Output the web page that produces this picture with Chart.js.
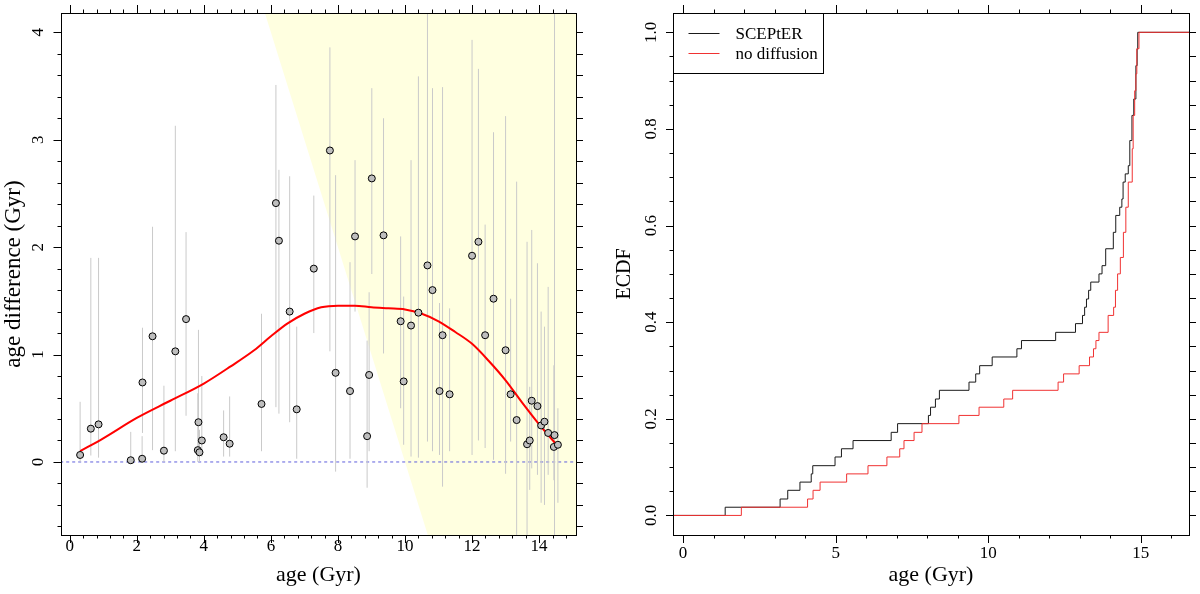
<!DOCTYPE html>
<html>
<head>
<meta charset="utf-8">
<title>Age difference and ECDF</title>
<script src="https://cdn.jsdelivr.net/npm/chart.js@4.4.1/dist/chart.umd.min.js"></script>
<style>
  html, body { margin: 0; padding: 0; background: #fff; }
  #wrap { position: relative; width: 1200px; height: 594px; }
  #wrap canvas { position: absolute; top: 0; }
  #ageDiff { left: 0; }
  #ecdf { left: 600px; }
</style>
</head>
<body>
<div id="wrap">
  <canvas id="ageDiff" width="600" height="594"></canvas>
  <canvas id="ecdf" width="600" height="594"></canvas>
</div>
<script>
// left panel: age difference per star, with its error bar
const starAge = [0.31, 0.63, 0.86, 1.82, 2.16, 2.17, 2.47, 2.81, 3.15, 3.47, 3.82, 3.84, 3.87, 3.94, 4.59, 4.77,
  5.72, 6.15, 6.24, 6.56, 6.77, 7.28, 7.76, 7.93, 8.36, 8.51, 8.87, 8.93, 9.01, 9.36, 9.87, 9.96, 10.18, 10.40,
  10.67, 10.82, 11.03, 11.12, 11.33, 12.00, 12.19, 12.39, 12.64, 13.00, 13.15, 13.33, 13.64, 13.72, 13.78, 13.95,
  14.06, 14.16, 14.27, 14.44, 14.46, 14.56];
const ageDiff = [0.065, 0.31, 0.35, 0.016, 0.03, 0.74, 1.17, 0.105, 1.03, 1.33, 0.11, 0.37, 0.09, 0.20, 0.23, 0.17,
  0.54, 2.41, 2.06, 1.40, 0.49, 1.80, 2.90, 0.83, 0.66, 2.10, 0.24, 0.81, 2.64, 2.11, 1.31, 0.75, 1.27, 1.39,
  1.83, 1.60, 0.66, 1.18, 0.63, 1.92, 2.05, 1.18, 1.52, 1.04, 0.63, 0.39, 0.165, 0.20, 0.57, 0.52,
  0.34, 0.375, 0.27, 0.14, 0.25, 0.16];
const diffLow = [0.0, 0.06, 0.04, 0.0, 0.0, 0.27, 0.11, 0.0, 0.10, 0.43, 0.0, 0.05, 0.0, 0.05, 0.05, 0.05,
  0.10, 0.51, 0.45, 0.37, 0.03, 1.20, 1.03, -0.09, 0.03, 1.40, -0.24, 0.10, 1.75, 1.01, 0.50, 0.16, 0.05, 0.04,
  0.19, 0.10, 0.065, -0.23, 0.10, 0.065, 0.20, 0.13, 0.02, -0.11, 0.19, -0.80, -0.80, -0.26, -0.06, -0.12,
  -0.38, -0.40, -0.12, -0.17, -0.80, -0.38];
const diffHigh = [0.56, 1.90, 1.90, 0.28, 0.24, 1.25, 2.19, 0.71, 3.13, 2.14, 0.64, 1.23, 0.30, 0.80, 0.48, 0.61,
  1.38, 3.51, 2.72, 2.66, 1.26, 2.48, 3.86, 2.67, 1.86, 2.81, 1.13, 1.58, 3.48, 3.20, 2.10, 1.54, 2.81, 3.59,
  4.40, 3.48, 1.48, 3.49, 1.43, 3.93, 3.66, 2.21, 3.07, 3.22, 1.52, 2.61, 2.05, 0.70, 2.16, 1.85,
  1.40, 1.26, 1.63, 0.90, 4.40, 0.50];

// smoothed trend (red curve)
const trendAge = [0.31, 1, 2, 3, 4, 4.8, 5.5, 6, 6.5, 7, 7.5, 8, 8.5, 9, 9.5, 10, 10.5, 11, 11.5, 12, 12.5, 13, 13.5, 14, 14.55];
const trendDiff = [0.10, 0.22, 0.41, 0.57, 0.73, 0.89, 1.04, 1.17, 1.29, 1.38, 1.44, 1.455, 1.455, 1.44, 1.43, 1.42,
  1.38, 1.31, 1.21, 1.10, 0.94, 0.76, 0.55, 0.35, 0.15];

// edge of the shaded zone (age + difference = 10 Gyr) and the zero line
const shadeAge = [5, 16];
const shadeDiff = [5, -6];
const zeroAge = [-1, 16];
const zeroDiff = [0, 0];

// right panel: ECDF jumps
const scepterAge = [1.38, 3.18, 3.43, 3.83, 4.20, 4.25, 4.98, 5.19, 5.57, 6.82, 7.03, 8.04, 8.11, 8.27, 8.40, 9.37,
  9.59, 9.72, 10.13, 10.94, 11.09, 12.21, 12.86, 13.09, 13.16, 13.22, 13.29, 13.36, 13.63, 13.73, 13.85, 14.10,
  14.18, 14.31, 14.38, 14.42, 14.49, 14.59, 14.64, 14.71, 14.77, 14.84, 14.88, 14.90];
const scepterEcdf = [0.017, 0.034, 0.052, 0.069, 0.086, 0.103, 0.121, 0.138, 0.155, 0.172, 0.190, 0.207, 0.224, 0.241,
  0.259, 0.276, 0.293, 0.310, 0.328, 0.345, 0.362, 0.379, 0.397, 0.414, 0.431, 0.448, 0.466, 0.483, 0.500, 0.517,
  0.552, 0.586, 0.621, 0.638, 0.655, 0.690, 0.707, 0.724, 0.776, 0.828, 0.862, 0.931, 0.966, 1.000];
const noDiffAge = [1.91, 4.08, 4.26, 4.49, 5.36, 6.06, 6.68, 7.10, 7.24, 7.57, 7.83, 9.04, 9.70, 10.51, 10.80, 12.29,
  12.47, 12.98, 13.32, 13.45, 13.53, 13.63, 13.93, 14.11, 14.17, 14.24, 14.33, 14.43, 14.51, 14.59, 14.72, 14.75,
  14.80, 14.84, 14.87, 14.94];
const noDiffEcdf = [0.017, 0.034, 0.052, 0.069, 0.086, 0.103, 0.121, 0.138, 0.155, 0.172, 0.190, 0.207, 0.224, 0.241,
  0.259, 0.276, 0.293, 0.310, 0.328, 0.345, 0.362, 0.379, 0.414, 0.431, 0.466, 0.500, 0.534, 0.586, 0.638, 0.690,
  0.759, 0.828, 0.879, 0.914, 0.966, 1.000];
const ecdfStart = [-1, 0];
const ecdfEnd = [17, 1];

// tick labels
const ageTicks = [0, 2, 4, 6, 8, 10, 12, 14];
const ageTickNames = ['0', '2', '4', '6', '8', '10', '12', '14'];
const diffTicks = [0, 1, 2, 3, 4];
const diffTickNames = ['0', '1', '2', '3', '4'];
const ecdfAgeTicks = [0, 5, 10, 15];
const ecdfAgeTickNames = ['0', '5', '10', '15'];
const ecdfTicks = [0, 0.2, 0.4, 0.6, 0.8, 1.0];
const ecdfTickNames = ['0.0', '0.2', '0.4', '0.6', '0.8', '1.0'];

Chart.defaults.font.family = "'Liberation Serif', 'Times New Roman', serif";
Chart.defaults.color = '#000';
Chart.defaults.animation = false;

function pick(majors, names) {
  return function (value) {
    const i = majors.findIndex(m => Math.abs(m - value) < 1e-6);
    return i >= 0 ? names[i] : '';
  };
}

function toPoints(xs, ys) {
  return xs.map((x, i) => ({ x: x, y: ys[i] }));
}

// fix an axis box to a given size and drop the label overhang padding
function fixSize(size) {
  return function (sc) {
    if (sc.isHorizontal()) sc.height = size; else sc.width = size;
    sc.paddingTop = 0; sc.paddingBottom = 0; sc.paddingLeft = 0; sc.paddingRight = 0;
  };
}

// R-like box with long/short tick marks, drawn from the scales' own ticks
function boxTicks(spec) {
  return {
    id: 'boxTicks',
    afterDraw(chart) {
      const ctx = chart.ctx;
      const a = chart.chartArea;
      ctx.save();
      ctx.strokeStyle = '#000';
      ctx.lineWidth = 1;
      ctx.strokeRect(Math.round(a.left) + 0.5, Math.round(a.top) + 0.5,
        Math.round(a.right - a.left), Math.round(a.bottom - a.top));
      ctx.beginPath();
      for (const id of Object.keys(spec)) {
        const s = chart.scales[id];
        const sp = spec[id];
        for (const t of s.ticks) {
          const major = !sp.majors || sp.majors.some(m => Math.abs(m - t.value) < 1e-6);
          const len = major ? sp.long : sp.short;
          const p = Math.round(s.getPixelForValue(t.value)) + 0.5;
          if (s.position === 'bottom') { ctx.moveTo(p, a.bottom); ctx.lineTo(p, a.bottom + len); }
          else if (s.position === 'top') { ctx.moveTo(p, a.top); ctx.lineTo(p, a.top - len); }
          else if (s.position === 'left') { ctx.moveTo(a.left, p); ctx.lineTo(a.left - len, p); }
          else { ctx.moveTo(a.right, p); ctx.lineTo(a.right + len, p); }
        }
      }
      ctx.stroke();
      ctx.restore();
    }
  };
}

// boxed legend in the top-left corner of the plot
const boxLegend = {
  id: 'boxLegend',
  afterDatasetsDraw(chart) {
    const ctx = chart.ctx;
    const a = chart.chartArea;
    const x0 = Math.round(a.left) + 0.5, y0 = Math.round(a.top) + 0.5;
    ctx.save();
    ctx.fillStyle = '#fff';
    ctx.fillRect(x0, y0, 150, 60);
    ctx.strokeStyle = '#000';
    ctx.lineWidth = 1;
    ctx.strokeRect(x0, y0, 150, 60);
    ctx.font = "17px 'Liberation Serif'";
    ctx.textBaseline = 'middle';
    chart.data.datasets.forEach((ds, i) => {
      const y = Math.round(a.top + 20 + i * 20) + 0.5;
      ctx.strokeStyle = ds.borderColor;
      ctx.beginPath();
      ctx.moveTo(x0 + 15, y);
      ctx.lineTo(x0 + 46, y);
      ctx.stroke();
      ctx.fillStyle = '#000';
      ctx.fillText(ds.label, x0 + 62, y + 1);
    });
    ctx.restore();
  }
};

function hidden(pos, min, max, step, size) {
  return {
    type: 'linear', position: pos, min: min, max: max,
    grid: { display: false, drawTicks: false }, border: { display: false },
    ticks: { display: false, stepSize: step, includeBounds: false, autoSkip: false },
    afterFit: fixSize(size)
  };
}

// ---------- left panel ----------
const errorBars = [];
starAge.forEach((a, i) => {
  errorBars.push({ x: a, y: diffLow[i] }, { x: a, y: diffHigh[i] }, { x: a, y: null });
});

new Chart(document.getElementById('ageDiff'), {
  type: 'line',
  data: {
    datasets: [
      {
        type: 'scatter', label: 'stars', data: toPoints(starAge, ageDiff), order: 0,
        pointRadius: 3.5, pointBackgroundColor: '#bebebe', pointBorderColor: '#000', pointBorderWidth: 1
      },
      {
        label: 'trend', data: toPoints(trendAge, trendDiff), order: 1,
        borderColor: '#ff0000', borderWidth: 2, pointRadius: 0, cubicInterpolationMode: 'monotone'
      },
      {
        label: 'error', data: errorBars, order: 2, spanGaps: false,
        borderColor: '#cacaca', borderWidth: 1, pointRadius: 0
      },
      {
        label: 'zero', data: toPoints(zeroAge, zeroDiff), order: 3,
        borderColor: '#5f5fdc', borderWidth: 1, borderDash: [3, 3], pointRadius: 0
      },
      {
        label: 'shade', data: toPoints(shadeAge, shadeDiff), order: 4, fill: 'end',
        backgroundColor: '#ffffe0', borderColor: 'rgba(0,0,0,0)', borderWidth: 0, pointRadius: 0
      }
    ]
  },
  options: {
    responsive: false,
    devicePixelRatio: 1,
    layout: { padding: 0, autoPadding: false },
    plugins: { legend: { display: false }, tooltip: { enabled: false } },
    scales: {
      x: {
        type: 'linear', position: 'bottom', min: -0.26, max: 15.1,
        grid: { display: false, drawTicks: false }, border: { display: false },
        ticks: {
          stepSize: 0.4, includeBounds: false, autoSkip: false, maxRotation: 0, padding: 1,
          font: { size: 17 }, callback: pick(ageTicks, ageTickNames)
        },
        title: { display: true, text: 'age (Gyr)', font: { size: 22 }, padding: { top: 0, bottom: 6 } },
        afterFit: fixSize(59)
      },
      y: {
        type: 'linear', position: 'left', min: -0.68, max: 4.18,
        grid: { display: false, drawTicks: false }, border: { display: false },
        ticks: {
          stepSize: 0.2, includeBounds: false, autoSkip: false, minRotation: 90, maxRotation: 90,
          crossAlign: 'center', padding: 18, font: { size: 17 }, callback: pick(diffTicks, diffTickNames)
        },
        title: { display: true, text: 'age difference (Gyr)', font: { size: 23 }, padding: { top: 0, bottom: 0 } },
        afterFit: fixSize(61)
      },
      x2: hidden('top', -0.26, 15.1, 0.4, 13),
      y2: hidden('right', -0.68, 4.18, 0.2, 24)
    }
  },
  plugins: [boxTicks({
    x: { majors: ageTicks, long: 8, short: 3.5 },
    x2: { majors: ageTicks, long: 8, short: 3.5 },
    y: { majors: diffTicks, long: 7.5, short: 3.5 },
    y2: { majors: null, long: 7 }
  })]
});

// ---------- right panel ----------
function ecdfPoints(xs, ys) {
  return [{ x: ecdfStart[0], y: ecdfStart[1] }].concat(toPoints(xs, ys), [{ x: ecdfEnd[0], y: ecdfEnd[1] }]);
}

new Chart(document.getElementById('ecdf'), {
  type: 'line',
  data: {
    datasets: [
      {
        label: 'SCEPtER', data: ecdfPoints(scepterAge, scepterEcdf), order: 1, stepped: 'before',
        borderColor: '#1a1a1a', borderWidth: 1, pointRadius: 0
      },
      {
        label: 'no diffusion', data: ecdfPoints(noDiffAge, noDiffEcdf), order: 0, stepped: 'before',
        borderColor: '#f03232', borderWidth: 1, pointRadius: 0
      }
    ]
  },
  options: {
    responsive: false,
    devicePixelRatio: 1,
    layout: { padding: 0, autoPadding: false },
    plugins: { legend: { display: false }, tooltip: { enabled: false } },
    scales: {
      x: {
        type: 'linear', position: 'bottom', min: -0.33, max: 16.58,
        grid: { display: false, drawTicks: false }, border: { display: false },
        ticks: {
          stepSize: 1, includeBounds: false, autoSkip: false, maxRotation: 0, padding: 8,
          font: { size: 17 }, callback: pick(ecdfAgeTicks, ecdfAgeTickNames)
        },
        title: { display: true, text: 'age (Gyr)', font: { size: 22 }, padding: { top: 0, bottom: 6 } },
        afterFit: fixSize(59)
      },
      y: {
        type: 'linear', position: 'left', min: -0.0405, max: 1.04,
        grid: { display: false, drawTicks: false }, border: { display: false },
        ticks: {
          stepSize: 0.05, includeBounds: false, autoSkip: false, minRotation: 90, maxRotation: 90,
          crossAlign: 'center', padding: 11, font: { size: 17 }, callback: pick(ecdfTicks, ecdfTickNames)
        },
        title: { display: true, text: 'ECDF', font: { size: 20 }, padding: { top: 13, bottom: 0 } },
        afterFit: fixSize(73)
      },
      x2: hidden('top', -0.33, 16.58, 1, 13),
      y2: hidden('right', -0.0405, 1.04, 0.05, 11)
    }
  },
  plugins: [boxTicks({
    x: { majors: ecdfAgeTicks, long: 8, short: 3.5 },
    x2: { majors: ecdfAgeTicks, long: 8, short: 3.5 },
    y: { majors: ecdfTicks, long: 7, short: 3.5 },
    y2: { majors: null, long: 7 }
  }), boxLegend]
});
</script>
</body>
</html>
